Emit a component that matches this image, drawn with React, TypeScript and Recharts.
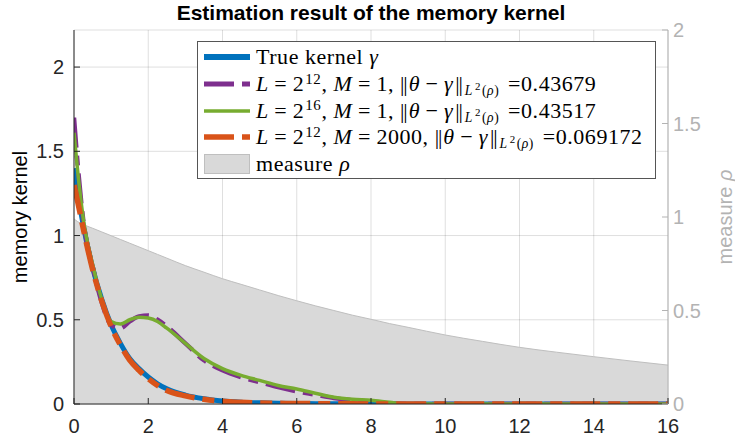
import React from "react";
import {
  ComposedChart,
  Line,
  Area,
  XAxis,
  YAxis,
  CartesianGrid,
  Legend,
} from "recharts";

// sample positions (time lag)
const lags = [
  0, 0.1, 0.25, 0.5, 0.75, 1, 1.25, 1.5, 1.75, 2, 2.25, 2.5, 3, 3.5, 4, 4.5, 5,
  5.5, 6, 6.5, 7, 7.5, 8, 8.5, 9, 10, 11, 12, 13, 14, 15, 16,
];

const trueKernel = [
  1.4, 1.25, 1.06, 0.81, 0.62, 0.47, 0.36, 0.27, 0.21, 0.16, 0.12, 0.09, 0.053,
  0.031, 0.018, 0.011, 0.007, 0.004, 0.003, 0.002, 0.001, 0.001, 0, 0, 0, 0, 0,
  0, 0, 0, 0, 0,
];

const estL12M1 = [
  1.7, 1.42, 1.09, 0.82, 0.6, 0.47, 0.45, 0.49, 0.52, 0.525, 0.5, 0.46, 0.36,
  0.26, 0.2, 0.16, 0.13, 0.1, 0.075, 0.055, 0.035, 0.022, 0.014, 0.004, 0, 0,
  0, 0, 0, 0, 0, 0,
];

const estL16M1 = [
  1.61, 1.38, 1.1, 0.83, 0.62, 0.49, 0.475, 0.5, 0.515, 0.51, 0.49, 0.45, 0.36,
  0.27, 0.21, 0.17, 0.14, 0.11, 0.089, 0.064, 0.04, 0.028, 0.022, 0.01, 0, 0,
  0, 0, 0, 0, 0, 0,
];

const estL12M2000 = [
  1.3, 1.2, 1.04, 0.8, 0.61, 0.46, 0.35, 0.26, 0.2, 0.15, 0.11, 0.08, 0.048,
  0.028, 0.016, 0.01, 0.006, 0.004, 0.003, 0.002, 0.001, 0.001, 0, 0, 0, 0, 0,
  0, 0, 0, 0, 0,
];

const measureRho = [
  0.99, 0.975, 0.96, 0.94, 0.92, 0.9, 0.88, 0.86, 0.84, 0.82, 0.8, 0.78, 0.74,
  0.705, 0.67, 0.64, 0.61, 0.58, 0.552, 0.525, 0.5, 0.475, 0.453, 0.43, 0.41,
  0.369, 0.335, 0.303, 0.277, 0.253, 0.23, 0.208,
];

const xTicks = [0, 2, 4, 6, 8, 10, 12, 14, 16];
const kernelTicks = [0, 0.5, 1, 1.5, 2];
const rhoTicks = [0, 0.5, 1, 1.5, 2];

const errors = ["0.43679", "0.43517", "0.069172"];

const data = lags.map((x, i) => ({
  x,
  gamma: trueKernel[i],
  l12m1: estL12M1[i],
  l16m1: estL16M1[i],
  l12m2000: estL12M2000[i],
  rho: measureRho[i],
}));

const BLUE = "#0072BD";
const PURPLE = "#7E2F8E";
const GREEN = "#77AC30";
const ORANGE = "#D95319";
const AXIS = "#262626";
const GRAY_AXIS = "#b3b3b3";
const SANS = "'Liberation Sans', Arial, Helvetica, sans-serif";
const SERIF = "'Liberation Serif', 'Times New Roman', serif";

const BottomTick = ({ x, y, payload }: any) => (
  <g>
    <line x1={x} x2={x} y1={y} y2={y - 6} stroke={AXIS} />
    <text x={x} y={y + 29} textAnchor="middle" fill={AXIS} fontSize={20} fontFamily={SANS}>
      {payload.value}
    </text>
  </g>
);

const LeftTick = ({ x, y, payload }: any) => (
  <g>
    <line x1={x} x2={x + 6} y1={y} y2={y} stroke={AXIS} />
    <text x={x - 10} y={y + 7} textAnchor="end" fill={AXIS} fontSize={20} fontFamily={SANS}>
      {payload.value}
    </text>
  </g>
);

const RightTick = ({ x, y, payload }: any) => (
  <g>
    <line x1={x} x2={x - 6} y1={y} y2={y} stroke={GRAY_AXIS} />
    <text x={x + 5} y={y + 7} textAnchor="start" fill={GRAY_AXIS} fontSize={20} fontFamily={SANS}>
      {payload.value}
    </text>
  </g>
);

const sup = { fontSize: "0.68em", verticalAlign: "0.5em", lineHeight: 0, marginLeft: 1 };
const sub = {
  fontSize: "0.62em",
  position: "relative" as const,
  top: "0.3em",
  lineHeight: 1,
  marginLeft: 3,
};
const bars = { letterSpacing: "-0.05em", marginRight: 2 };
const op = { margin: "0 0.25em" };

const Norm = ({ value }: { value: string }) => (
  <>
    <span style={bars}>||</span>
    <i>θ</i>
    <span style={op}>−</span>
    <i>γ</i>
    <span style={{ ...bars, marginLeft: 2, marginRight: 0 }}>||</span>
    <span style={sub}>
      <i style={{ marginRight: 2 }}>L</i>
      <span style={{ fontSize: "0.8em", position: "relative", top: "-0.5em", marginRight: 1 }}>2</span>(
      <i>ρ</i>)
    </span>
    <span style={{ marginLeft: "0.4em" }}>={value}</span>
  </>
);

const Params = ({ pow, m }: { pow: string; m: string }) => (
  <>
    <i>L</i>
    <span style={op}>=</span>2<span style={sup}>{pow}</span>,{" "}
    <i>M</i>
    <span style={op}>=</span>
    {m},{" "}
  </>
);

const legendRows = [
  { color: BLUE, width: 6, dash: undefined, label: <>True kernel <i>γ</i></> },
  {
    color: PURPLE,
    width: 5,
    dash: "30 8 8 0",
    label: (
      <>
        <Params pow="12" m="1" />
        <Norm value={errors[0]} />
      </>
    ),
  },
  {
    color: GREEN,
    width: 3.5,
    dash: undefined,
    label: (
      <>
        <Params pow="16" m="1" />
        <Norm value={errors[1]} />
      </>
    ),
  },
  {
    color: ORANGE,
    width: 5.5,
    dash: "30 8 8 0",
    label: (
      <>
        <Params pow="12" m="2000" />
        <Norm value={errors[2]} />
      </>
    ),
  },
];

const renderLegend = () => (
  <div
    style={{
      boxSizing: "border-box",
      width: 459,
      height: 138,
      background: "#fff",
      border: "1px solid #555",
      paddingTop: 2,
      fontFamily: SERIF,
      fontSize: 22,
      letterSpacing: 0.55,
      color: "#000",
    }}
  >
    {legendRows.map((r, i) => (
      <div key={i} style={{ display: "flex", alignItems: "center", height: 26.7 }}>
        <svg width={58} height={12} style={{ flex: "none" }}>
          <line
            x1={6}
            x2={52}
            y1={6}
            y2={6}
            stroke={r.color}
            strokeWidth={r.width}
            strokeDasharray={r.dash}
          />
        </svg>
        <span style={{ whiteSpace: "nowrap", lineHeight: 1 }}>{r.label}</span>
      </div>
    ))}
    <div style={{ display: "flex", alignItems: "center", height: 26.7 }}>
      <svg width={58} height={22} style={{ flex: "none" }}>
        <rect x={6.5} y={1.5} width={45} height={19} fill="#d9d9d9" stroke="#bfbfbf" />
      </svg>
      <span style={{ whiteSpace: "nowrap", lineHeight: 1 }}>
        measure <i>ρ</i>
      </span>
    </div>
  </div>
);

export default function App() {
  return (
    <div style={{ position: "absolute", left: 0, top: 0, width: 735, height: 440, background: "#fff" }}>
      <div
        style={{
          position: "absolute",
          left: 71,
          top: 1,
          width: 600,
          textAlign: "center",
          fontFamily: SANS,
          fontWeight: "bold",
          fontSize: 21,
          color: "#000",
        }}
      >
        Estimation result of the memory kernel
      </div>
      <ComposedChart
        width={735}
        height={440}
        data={data}
        margin={{ top: 30, right: 0, bottom: 0, left: 0 }}
      >
        <XAxis
          dataKey="x"
          type="number"
          domain={[0, 16]}
          ticks={xTicks}
          interval={0}
          height={36}
          tickSize={0}
          tickMargin={0}
          tickLine={false}
          axisLine={{ stroke: AXIS }}
          tick={<BottomTick />}
          allowDataOverflow
        />
        <YAxis
          yAxisId="left"
          domain={[0, 2.22]}
          ticks={kernelTicks}
          interval={0}
          width={74}
          tickSize={0}
          tickMargin={0}
          tickLine={false}
          axisLine={{ stroke: AXIS }}
          tick={<LeftTick />}
          allowDataOverflow
        />
        <YAxis
          yAxisId="right"
          orientation="right"
          domain={[0, 2]}
          ticks={rhoTicks}
          interval={0}
          width={67}
          tickSize={0}
          tickMargin={0}
          tickLine={false}
          axisLine={{ stroke: GRAY_AXIS }}
          tick={<RightTick />}
          allowDataOverflow
        />
        <Area
          yAxisId="right"
          dataKey="rho"
          type="monotone"
          fill="#d9d9d9"
          fillOpacity={1}
          stroke="#bfbfbf"
          strokeWidth={1}
          isAnimationActive={false}
        />
        <CartesianGrid yAxisId="left" stroke="rgba(38,38,38,0.15)" />
        <Line
          yAxisId="left"
          dataKey="gamma"
          type="monotone"
          stroke={BLUE}
          strokeWidth={5}
          dot={false}
          isAnimationActive={false}
        />
        <Line
          yAxisId="left"
          dataKey="l12m1"
          type="monotone"
          stroke={PURPLE}
          strokeWidth={4.5}
          strokeDasharray="30 8 10 8"
          dot={false}
          isAnimationActive={false}
        />
        <Line
          yAxisId="left"
          dataKey="l16m1"
          type="monotone"
          stroke={GREEN}
          strokeWidth={3.5}
          dot={false}
          isAnimationActive={false}
        />
        <Line
          yAxisId="left"
          dataKey="l12m2000"
          type="monotone"
          stroke={ORANGE}
          strokeWidth={5.5}
          strokeDasharray="30 8 12 8"
          dot={false}
          isAnimationActive={false}
        />
        <Legend
          layout="vertical"
          align="center"
          verticalAlign="middle"
          content={renderLegend}
          wrapperStyle={{ left: 197, top: 41, width: 459, height: 138 }}
        />
      </ComposedChart>
      <div
        style={{
          position: "absolute",
          left: 20,
          top: 217,
          transform: "translate(-50%, -50%) rotate(-90deg)",
          whiteSpace: "nowrap",
          fontFamily: SANS,
          fontSize: 20,
          color: "#000",
        }}
      >
        memory kernel
      </div>
      <div
        style={{
          position: "absolute",
          left: 725,
          top: 217,
          transform: "translate(-50%, -50%) rotate(-90deg)",
          whiteSpace: "nowrap",
          fontFamily: SANS,
          fontSize: 20,
          color: GRAY_AXIS,
        }}
      >
        measure <i>ρ</i>
      </div>
    </div>
  );
}
